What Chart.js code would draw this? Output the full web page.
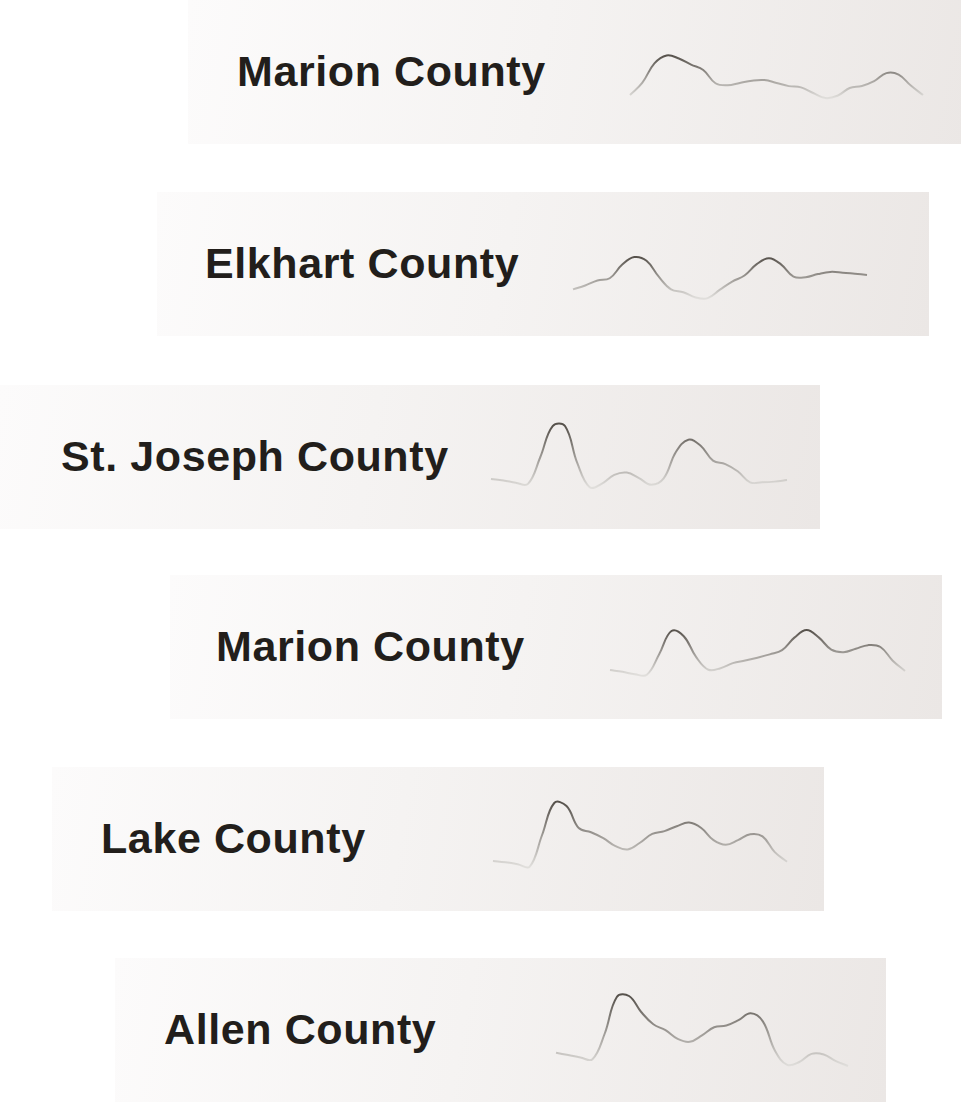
<!DOCTYPE html>
<html>
<head>
<meta charset="utf-8">
<script src="https://cdn.jsdelivr.net/npm/chart.js@4"></script>
<style>
  body { margin: 0; width: 961px; height: 1103px; background: #fff; position: relative; overflow: hidden; }
  .panel {
    position: absolute;
    height: 144px;
    background: linear-gradient(100deg, #fcfbfb 0%, #f5f3f2 45%, #ebe7e5 100%);
  }
  .name {
    position: absolute;
    font-family: "Liberation Sans", Arial, sans-serif;
    font-weight: 700;
    font-size: 43px;
    line-height: 43px;
    letter-spacing: 0.6px;
    color: #221e1b;
    white-space: nowrap;
  }
  canvas { position: absolute; }
</style>
</head>
<body>
<script>
// county names, top to bottom
var counties = ["Marion County", "Elkhart County", "St. Joseph County", "Marion County", "Lake County", "Allen County"];

// periods along each sparkline
var periods = ["1","2","3","4","5","6","7","8","9","10","11","12","13","14","15","16","17","18","19","20","21","22","23","24","25"];

// sparkline values (index, 0-100)
var marionValues   = [34.0, 42.4, 56.0, 61.5, 59.4, 55.1, 51.4, 42.2, 40.8, 42.4, 44.0, 44.4, 42.4, 40.2, 39.3, 35.4, 31.9, 33.5, 38.9, 40.3, 43.6, 49.2, 48.2, 40.6, 34.0];
var elkhartValues  = [32.4, 35.1, 38.6, 40.1, 49.4, 54.8, 52.2, 41.2, 32.4, 30.4, 26.8, 26.3, 32.2, 37.8, 42.0, 49.9, 54.0, 49.6, 41.2, 40.8, 43.0, 44.5, 44.0, 43.2, 42.4];
var stJosephValues = [34.7, 33.7, 32.1, 31.3, 50.0, 71.5, 71.5, 45.7, 29.0, 31.5, 37.6, 39.2, 35.3, 30.7, 35.1, 53.6, 62.0, 57.8, 47.5, 45.1, 40.1, 32.4, 32.4, 32.9, 34.0];
var marion2Values  = [34.0, 32.8, 31.1, 30.7, 45.0, 61.1, 57.5, 43.1, 34.2, 35.3, 38.8, 40.6, 42.6, 44.9, 47.8, 56.5, 61.8, 56.5, 48.2, 46.4, 48.8, 51.3, 50.0, 40.5, 33.3];
var lakeValues     = [34.7, 33.8, 32.5, 30.8, 52.6, 75.0, 72.9, 57.6, 54.7, 50.6, 45.0, 42.7, 47.4, 53.5, 55.5, 58.9, 61.4, 57.6, 49.2, 46.0, 49.2, 53.3, 51.8, 40.9, 34.2];
var allenValues    = [34.2, 32.6, 30.9, 29.7, 47.4, 72.9, 73.6, 62.5, 54.0, 49.9, 43.8, 41.8, 46.3, 51.9, 53.1, 56.8, 61.6, 56.0, 35.6, 25.8, 27.8, 33.4, 33.0, 28.4, 25.0];

var seriesList = [marionValues, elkhartValues, stJosephValues, marion2Values, lakeValues, allenValues];

// layout: panel box, text x, sparkline x range
var panels = [
  { left: 188, top: 0,   width: 780, textX: 237, lineX: 630, lineW: 293 },
  { left: 157, top: 192, width: 772, textX: 205, lineX: 573, lineW: 294 },
  { left: 0,   top: 385, width: 820, textX: 61,  lineX: 491, lineW: 296 },
  { left: 170, top: 575, width: 772, textX: 216, lineX: 610, lineW: 295 },
  { left: 52,  top: 767, width: 772, textX: 101, lineX: 493, lineW: 294 },
  { left: 115, top: 958, width: 771, textX: 164, lineX: 556, lineW: 292 }
];

function lineGradient(ctx) {
  var chart = ctx.chart;
  if (!chart.chartArea) return "#999";
  var vals = chart.data.datasets[0].data;
  var y = chart.scales.y;
  var top = y.getPixelForValue(Math.max.apply(null, vals));
  var bottom = y.getPixelForValue(Math.min.apply(null, vals));
  var g = chart.ctx.createLinearGradient(0, top, 0, bottom);
  g.addColorStop(0, "#57524c");
  g.addColorStop(1, "#e0dedb");
  return g;
}

panels.forEach(function(p, i) {
  var box = document.createElement("div");
  box.className = "panel";
  box.style.left = p.left + "px";
  box.style.top = p.top + "px";
  box.style.width = p.width + "px";
  document.body.appendChild(box);

  var label = document.createElement("div");
  label.className = "name";
  label.textContent = counties[i];
  label.style.left = p.textX + "px";
  label.style.top = (p.top + 50) + "px";
  document.body.appendChild(label);

  var cv = document.createElement("canvas");
  cv.width = p.lineW + 6;
  cv.height = 144;
  cv.style.left = (p.lineX - 3) + "px";
  cv.style.top = p.top + "px";
  document.body.appendChild(cv);

  new Chart(cv, {
    type: "line",
    data: {
      labels: periods,
      datasets: [{
        data: seriesList[i],
        borderColor: lineGradient,
        borderWidth: 2,
        tension: 0.4,
        pointRadius: 0,
        fill: false
      }]
    },
    options: {
      responsive: false,
      animation: false,
      layout: { padding: { left: 3, right: 3, top: 0, bottom: 0 } },
      plugins: { legend: { display: false }, tooltip: { enabled: false } },
      scales: {
        x: { display: false },
        y: { display: false, min: 0, max: 100 }
      }
    }
  });
});
</script>
</body>
</html>
